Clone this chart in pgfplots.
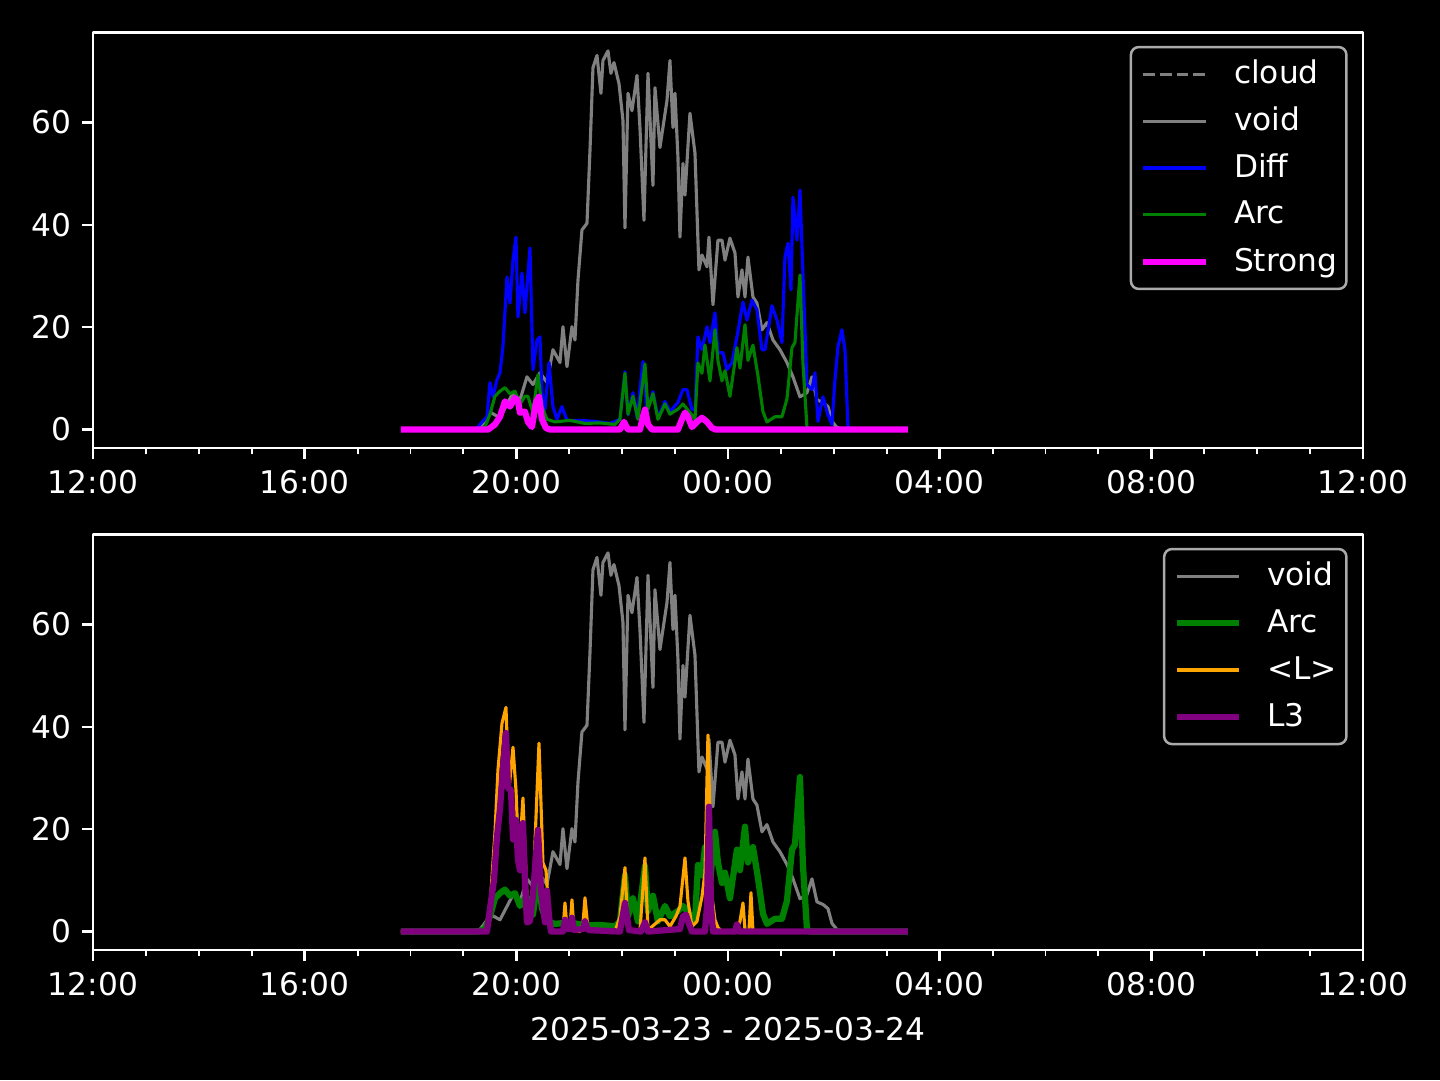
\documentclass[border=0pt]{standalone}
\usepackage{fontspec}
\setmainfont{DejaVu Sans}
\usepackage{pgfplots}
\pgfplotsset{compat=1.18}
\definecolor{mgray}{RGB}{128,128,128}
\definecolor{mblue}{RGB}{0,0,255}
\definecolor{mgreen}{RGB}{0,128,0}
\definecolor{mmagenta}{RGB}{255,0,255}
\definecolor{morange}{RGB}{255,165,0}
\definecolor{mpurple}{RGB}{128,0,128}
\definecolor{legedge}{RGB}{170,170,170}
\pgfplotsset{
  mystyle/.style={
    scale only axis, width=406.4pt, height=133pt,
    xmin=0, xmax=24, ymin=-3.6, ymax=77.6,
    xtick={0,4,...,24},
    xticklabels={12:00,16:00,20:00,00:00,04:00,08:00,12:00},
    minor x tick num=3,
    ytick={0,20,40,60},
    tick align=outside, xtick pos=left, ytick pos=left,
    major tick length=3.5pt, minor tick length=2pt,
    major tick style={white, line width=0.8pt},
    minor tick style={white, line width=0.6pt},
    axis line style={white, line width=0.8pt},
    tick label style={white, font=\fontsize{10}{12}\selectfont},
    /pgf/number format/assume math mode=true,
    legend cell align=left,
    legend image code/.code={\draw[##1] (0pt,0pt) -- (20pt,0pt);},
    legend style={at={(rel axis cs:1,1)}, anchor=north east, xshift=-4.9pt, yshift=-4.3pt,
      fill=black, draw=legedge, line width=0.8pt, rounded corners=2.5pt, text=white,
      font=\fontsize{10}{12}\selectfont, inner xsep=3pt, inner ysep=1.2pt, row sep=0pt,
      nodes={inner sep=0pt, minimum height=15pt},
      /tikz/every odd column/.append style={column sep=8pt}},
    no marks, line join=round,
  },
  voidst/.style={mgray, line width=1pt},
}
\begin{document}
\begin{tikzpicture}
\fill[black] (0,0) rectangle (460.8pt,345.6pt);
% ---------------- top panel
\begin{axis}[mystyle, at={(29.76pt,202.24pt)}, anchor=south west]
\addlegendimage{mgray, line width=1pt, dash pattern=on 3.7pt off 1.6pt}
\addlegendentry{cloud}
\addplot[voidst] coordinates {
(5.820,0) (7.124,0) (7.313,0.4) (7.521,3.3) (7.691,2.3) (7.937,7.2) (8.069,5.8) (8.201,10.3) (8.314,8.8) (8.447,11.1) (8.579,9.2) (8.692,15.6) (8.825,13.1) (8.881,20.1) (8.957,12.3) (9.051,20.1) (9.108,17.5) (9.165,29.2) (9.240,39.0) (9.335,40.3) (9.392,54.6) (9.448,70.7) (9.524,73.1) (9.599,65.7) (9.637,72.1) (9.732,74.0) (9.788,69.6) (9.845,71.7) (9.940,67.6) (10.015,60.4) (10.053,39.4) (10.110,65.7) (10.185,62.3) (10.280,69.2) (10.336,59.0) (10.412,40.9) (10.488,69.6) (10.582,47.7) (10.620,66.8) (10.714,55.1) (10.847,64.3) (10.903,72.1) (10.960,59.0) (10.998,65.7) (11.054,53.2) (11.092,37.6) (11.149,52.0) (11.187,45.8) (11.281,61.8) (11.376,54.0) (11.451,31.2) (11.508,34.1) (11.603,31.8) (11.640,37.6) (11.716,24.4) (11.810,37.0) (11.886,37.0) (11.943,33.1) (12.037,37.4) (12.132,34.5) (12.188,25.9) (12.264,31.2) (12.321,25.9) (12.377,33.7) (12.472,25.9) (12.547,24.7) (12.642,19.5) (12.736,20.9) (12.850,17.5) (12.982,15.6) (13.114,13.1) (13.228,10.3) (13.360,6.4) (13.492,7.2) (13.587,10.3) (13.681,5.8) (13.795,5.3) (13.889,4.5) (13.965,1.6) (14.059,0.4) (14.210,0) (15.401,0)};
\addlegendentry{void}
\addplot[mblue, line width=1pt] coordinates {
(5.820,0) (7.237,0) (7.313,1.0) (7.445,2.5) (7.502,9.2) (7.559,6.4) (7.634,9.7) (7.691,11.1) (7.747,16.2) (7.823,29.8) (7.880,24.7) (7.937,33.1) (7.993,37.6) (8.031,22.0) (8.107,30.6) (8.163,22.8) (8.258,35.5) (8.314,11.7) (8.390,17.5) (8.447,18.1) (8.484,7.2) (8.541,3.9) (8.617,13.1) (8.692,4.5) (8.768,2.0) (8.862,4.5) (8.957,1.8) (9.202,1.8) (9.486,1.6) (9.769,1.2) (9.958,2.0) (10.053,11.3) (10.110,2.9) (10.204,7.2) (10.280,2.3) (10.393,13.3) (10.469,3.5) (10.582,7.4) (10.676,2.3) (10.809,5.5) (10.903,3.5) (11.054,5.3) (11.149,7.8) (11.224,7.8) (11.319,3.9) (11.376,3.9) (11.432,18.1) (11.508,15.6) (11.603,20.1) (11.659,17.0) (11.754,22.8) (11.810,15.0) (11.905,15.0) (11.980,11.7) (12.075,13.1) (12.169,18.1) (12.283,24.9) (12.358,21.4) (12.453,25.3) (12.547,23.4) (12.642,15.6) (12.698,15.6) (12.831,24.2) (12.925,21.4) (13.020,17.0) (13.076,33.7) (13.133,36.4) (13.190,27.3) (13.228,45.4) (13.303,37.0) (13.360,46.8) (13.416,30.6) (13.492,8.8) (13.587,7.8) (13.643,11.1) (13.700,1.6) (13.795,6.4) (13.889,2.9) (13.965,1.0) (14.021,9.7) (14.078,16.2) (14.153,19.5) (14.210,15.6) (14.267,0.6) (14.324,0) (15.401,0)};
\addlegendentry{Diff}
\addplot[mgreen, line width=1pt] coordinates {
(5.820,0) (7.275,0) (7.407,0.5) (7.502,3) (7.596,6.5) (7.691,7.5) (7.785,8.2) (7.880,7) (7.974,7.5) (8.069,5) (8.163,6.5) (8.220,6.5) (8.314,3.3) (8.409,10.7) (8.484,4.5) (8.579,2) (8.730,1.5) (9.014,1.8) (9.297,1.2) (9.580,1.3) (9.864,1.0) (9.958,2) (10.053,11) (10.110,3) (10.204,6.5) (10.298,2) (10.431,12.8) (10.488,4) (10.582,7) (10.676,2) (10.809,5) (10.903,3) (11.054,4) (11.149,5) (11.281,3.3) (11.376,2) (11.432,13) (11.508,11) (11.565,16.5) (11.659,9.5) (11.754,19.5) (11.810,13.5) (11.886,9.5) (11.943,11.5) (12.037,6.5) (12.169,16) (12.226,12) (12.321,20.5) (12.377,13.5) (12.472,16.5) (12.566,10.5) (12.661,3.5) (12.736,1.5) (12.887,2.5) (13.020,2.5) (13.114,6) (13.209,16) (13.265,17) (13.360,30.2) (13.416,13) (13.492,0.5) (13.549,0) (15.401,0)};
\addlegendentry{Arc}
\addplot[mmagenta, line width=2pt] coordinates {
(5.820,0) (7.464,0) (7.596,1) (7.691,2.5) (7.785,5.5) (7.880,4.5) (7.974,6.2) (8.031,5.5) (8.069,3.3) (8.163,3.5) (8.220,1.5) (8.295,0.5) (8.371,5.3) (8.428,6.4) (8.484,2) (8.560,0.3) (8.636,0) (9.958,0) (10.034,1.5) (10.110,0) (10.336,0) (10.393,2.5) (10.431,3.9) (10.488,1) (10.563,0) (11.054,0) (11.130,2) (11.187,3.3) (11.243,2.5) (11.319,0.5) (11.413,1.5) (11.508,2.3) (11.603,1.5) (11.697,0.3) (11.772,0) (15.401,0)};
\addlegendentry{Strong}
\end{axis}
% ---------------- bottom panel
\begin{axis}[mystyle, at={(29.76pt,41.6pt)}, anchor=south west,
  xlabel={2025-03-23 - 2025-03-24},
  xlabel style={white, font=\fontsize{10}{12}\selectfont}]
\addplot[voidst] coordinates {
(5.820,0) (7.124,0) (7.313,0.4) (7.521,3.3) (7.691,2.3) (7.937,7.2) (8.069,5.8) (8.201,10.3) (8.314,8.8) (8.447,11.1) (8.579,9.2) (8.692,15.6) (8.825,13.1) (8.881,20.1) (8.957,12.3) (9.051,20.1) (9.108,17.5) (9.165,29.2) (9.240,39.0) (9.335,40.3) (9.392,54.6) (9.448,70.7) (9.524,73.1) (9.599,65.7) (9.637,72.1) (9.732,74.0) (9.788,69.6) (9.845,71.7) (9.940,67.6) (10.015,60.4) (10.053,39.4) (10.110,65.7) (10.185,62.3) (10.280,69.2) (10.336,59.0) (10.412,40.9) (10.488,69.6) (10.582,47.7) (10.620,66.8) (10.714,55.1) (10.847,64.3) (10.903,72.1) (10.960,59.0) (10.998,65.7) (11.054,53.2) (11.092,37.6) (11.149,52.0) (11.187,45.8) (11.281,61.8) (11.376,54.0) (11.451,31.2) (11.508,34.1) (11.603,31.8) (11.640,37.6) (11.716,24.4) (11.810,37.0) (11.886,37.0) (11.943,33.1) (12.037,37.4) (12.132,34.5) (12.188,25.9) (12.264,31.2) (12.321,25.9) (12.377,33.7) (12.472,25.9) (12.547,24.7) (12.642,19.5) (12.736,20.9) (12.850,17.5) (12.982,15.6) (13.114,13.1) (13.228,10.3) (13.360,6.4) (13.492,7.2) (13.587,10.3) (13.681,5.8) (13.795,5.3) (13.889,4.5) (13.965,1.6) (14.059,0.4) (14.210,0) (15.401,0)};
\addlegendentry{void}
\addplot[mgreen, line width=2pt] coordinates {
(5.820,0) (7.275,0) (7.407,0.5) (7.502,3) (7.596,6.5) (7.691,7.5) (7.785,8.2) (7.880,7) (7.974,7.5) (8.069,5) (8.163,6.5) (8.220,6.5) (8.314,3.3) (8.409,10.7) (8.484,4.5) (8.579,2) (8.730,1.5) (9.014,1.8) (9.297,1.2) (9.580,1.3) (9.864,1.0) (9.958,2) (10.053,11) (10.110,3) (10.204,6.5) (10.298,2) (10.431,12.8) (10.488,4) (10.582,7) (10.676,2) (10.809,5) (10.903,3) (11.054,4) (11.149,5) (11.281,3.3) (11.376,2) (11.432,13) (11.508,11) (11.565,16.5) (11.659,9.5) (11.754,19.5) (11.810,13.5) (11.886,9.5) (11.943,11.5) (12.037,6.5) (12.169,16) (12.226,12) (12.321,20.5) (12.377,13.5) (12.472,16.5) (12.566,10.5) (12.661,3.5) (12.736,1.5) (12.887,2.5) (13.020,2.5) (13.114,6) (13.209,16) (13.265,17) (13.360,30.2) (13.416,13) (13.492,0.5) (13.549,0) (15.401,0)};
\addlegendentry{Arc}
\addplot[morange, line width=1pt] coordinates {
(5.820,0) (7.426,0) (7.502,4.9) (7.596,19.3) (7.653,31.6) (7.729,40.7) (7.804,43.8) (7.861,27.7) (7.937,36.0) (7.993,27.7) (8.050,13.4) (8.125,26.1) (8.201,6.8) (8.258,1.8) (8.314,5) (8.352,17.3) (8.428,36.8) (8.503,13.4) (8.560,12) (8.636,1) (8.730,0) (8.881,0) (8.919,5.6) (8.957,0.5) (9.014,0.5) (9.051,6.2) (9.089,0.3) (9.202,0) (9.259,1.5) (9.297,6.6) (9.354,0.5) (9.864,0) (9.958,2.9) (10.053,12.5) (10.110,0.3) (10.336,0) (10.431,14.4) (10.488,0.3) (10.714,2.3) (10.809,2.3) (10.903,1) (11.017,3) (11.092,4.9) (11.187,14.4) (11.243,6) (11.319,1) (11.413,2) (11.508,6.8) (11.565,11.5) (11.621,38.4) (11.697,6.8) (11.754,2.3) (11.810,0.8) (11.886,0) (12.150,0) (12.226,2) (12.283,5.6) (12.321,0.3) (12.396,0) (12.434,7.6) (12.472,0) (15.401,0)};
\addlegendentry{<L>}
\addplot[mpurple, line width=2pt] coordinates {
(5.820,0) (7.445,0) (7.502,4.5) (7.577,10) (7.634,18.5) (7.691,24) (7.747,32) (7.804,38.8) (7.842,28) (7.899,27.7) (7.937,18) (7.993,21.8) (8.031,14) (8.069,12) (8.125,21.2) (8.163,10) (8.201,1.8) (8.258,2) (8.314,7) (8.371,15) (8.409,19.9) (8.466,8) (8.503,5) (8.541,1.8) (8.579,8) (8.617,3) (8.655,0) (8.881,0) (8.919,2.3) (8.957,0.5) (9.014,0.5) (9.051,2.7) (9.089,0.3) (9.259,0.5) (9.297,2) (9.354,0.3) (9.958,0) (10.053,5.6) (10.128,0.3) (10.355,0) (10.431,1.8) (10.488,0) (11.092,0.5) (11.149,3) (11.206,3.3) (11.262,1.5) (11.319,0) (11.565,0) (11.603,5) (11.640,24.4) (11.678,5) (11.716,0) (12.132,0) (12.169,1.4) (12.207,0) (15.401,0)};
\addlegendentry{L3}
\end{axis}
\pgfresetboundingbox
\path[use as bounding box] (0,0) rectangle (460.8pt,345.6pt);
\end{tikzpicture}
\end{document}
